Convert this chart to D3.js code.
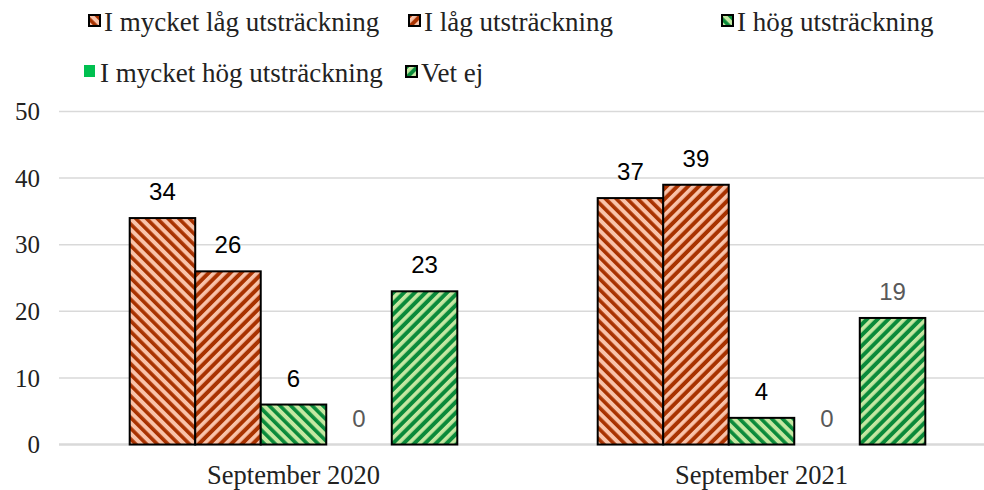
<!DOCTYPE html>
<html><head><meta charset="utf-8">
<script src="https://cdn.jsdelivr.net/npm/d3@7"></script>
<style>body{margin:0;background:#fff}svg{display:block}
.serif{font-family:"Liberation Serif","DejaVu Serif",serif}
.sans{font-family:"Liberation Sans",Arial,sans-serif}</style>
</head><body>
<svg id="c" width="984" height="490"></svg>
<script>
const categories = ["September 2020", "September 2021"];
const seriesNames = ["I mycket låg utsträckning", "I låg utsträckning", "I hög utsträckning", "I mycket hög utsträckning", "Vet ej"];
const values2020 = [34, 26, 6, 0, 23];
const values2021 = [37, 39, 4, 0, 19];
const yTicks = [0, 10, 20, 30, 40, 50];

const W = 984, H = 490;
const svg = d3.select("#c");
const defs = svg.append("defs");

const styles = [
  {bg: "#f9c3aa", fg: "#a83200", rot: -45, pat: true},
  {bg: "#a83200", fg: "#f9c3aa", rot: 45, pat: true},
  {bg: "#c5e8a2", fg: "#0a8a3a", rot: -45, pat: true},
  {bg: "#00c050", fg: null, rot: 0, pat: false},
  {bg: "#0a8a3a", fg: "#c5e8a2", rot: 45, pat: true}
];
styles.forEach((s, i) => {
  if (!s.pat) return;
  const p = defs.append("pattern").attr("id", "p" + i)
    .attr("patternUnits", "userSpaceOnUse").attr("width", 7.6).attr("height", 10)
    .attr("patternTransform", `rotate(${s.rot})`);
  p.append("rect").attr("width", 7.6).attr("height", 10).attr("fill", s.bg);
  p.append("rect").attr("width", 3.6).attr("height", 10).attr("fill", s.fg);
});
const fillOf = i => styles[i].pat ? `url(#p${i})` : styles[i].bg;

const y = d3.scaleLinear().domain([0, 50]).range([444.5, 111.5]);
const x0 = d3.scaleBand().domain(categories).range([59.5, 995.5]).paddingInner(0.3).paddingOuter(0.15);
const x1 = d3.scaleBand().domain(d3.range(seriesNames.length)).range([0, x0.bandwidth()]);

svg.append("g").selectAll("line").data(yTicks).join("line")
  .attr("x1", 59).attr("x2", 984)
  .attr("y1", d => y(d)).attr("y2", d => y(d))
  .attr("stroke", "#d9d9d9").attr("stroke-width", d => d === 0 ? 2.5 : 1.5);

svg.append("g").selectAll("text").data(yTicks).join("text")
  .attr("class", "serif")
  .attr("x", 40).attr("y", d => y(d)).attr("dy", "0.35em")
  .attr("text-anchor", "end")
  .attr("font-size", 25).attr("fill", "#222")
  .text(d => d);

const data = categories.map((c, ci) => ({cat: c, vals: [values2020, values2021][ci]}));
const labelColors = [["#000", "#000", "#000", "#595959", "#000"], ["#000", "#000", "#000", "#595959", "#595959"]];

const groups = svg.append("g").selectAll("g").data(data).join("g")
  .attr("transform", d => `translate(${x0(d.cat)},0)`);

groups.selectAll("rect").data(d => d.vals.map((v, i) => ({v, i}))).join("rect")
  .filter(d => d.v > 0)
  .attr("x", d => x1(d.i)).attr("width", x1.bandwidth())
  .attr("y", d => y(d.v)).attr("height", d => y(0) - y(d.v))
  .attr("fill", d => fillOf(d.i)).attr("stroke", "#000").attr("stroke-width", 2);

groups.each(function(d, ci) {
  d3.select(this).selectAll("text.lbl").data(d.vals.map((v, i) => ({v, i}))).join("text")
    .attr("class", "lbl sans")
    .attr("x", e => x1(e.i) + x1.bandwidth() / 2)
    .attr("y", e => y(e.v) - 18)
    .attr("text-anchor", "middle")
    .attr("font-size", 24)
    .attr("fill", e => labelColors[ci][e.i])
    .text(e => e.v);
});

svg.append("g").selectAll("text").data(categories).join("text")
  .attr("class", "serif")
  .attr("x", d => x0(d) + x0.bandwidth() / 2).attr("y", 484)
  .attr("text-anchor", "middle")
  .attr("font-size", 26.5).attr("fill", "#222")
  .text(d => d);

const legendPos = [[88, 31], [408, 31], [721, 31], [84, 82], [405, 82]];
const lg = svg.append("g").selectAll("g").data(seriesNames).join("g")
  .attr("transform", (d, i) => `translate(${legendPos[i][0]},${legendPos[i][1]})`);
lg.each(function(d, i) {
  const g = d3.select(this);
  if (styles[i].pat) {
    g.append("rect").attr("x", 1).attr("y", -16).attr("width", 11).attr("height", 11)
      .attr("fill", fillOf(i)).attr("stroke", "#000").attr("stroke-width", 2);
  } else {
    g.append("rect").attr("x", 0).attr("y", -17).attr("width", 11).attr("height", 12)
      .attr("fill", styles[i].bg);
  }
  g.append("text").attr("class", "serif").attr("x", 16).attr("y", 0)
    .attr("font-size", 27).attr("fill", "#222").text(d);
});
</script>
</body></html>
